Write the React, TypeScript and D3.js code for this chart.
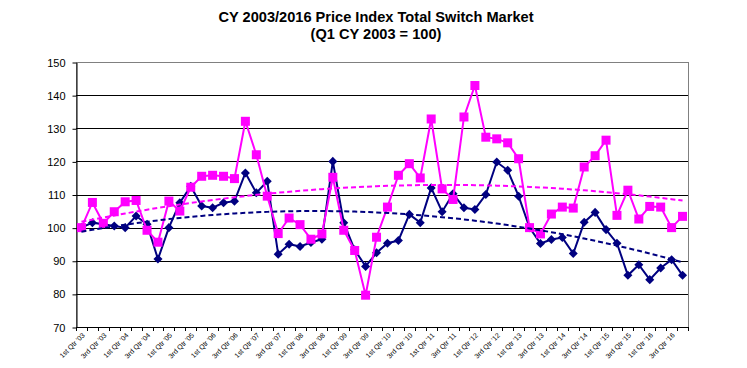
import { useEffect, useRef } from "react";
import * as d3 from "d3";

// quarter labels, every other one shown on the axis
const years = ["03", "04", "05", "06", "07", "08", "09", "10", "11", "12", "13", "14", "15", "16"];
const quarterNames = ["1st Qtr", "2nd Qtr", "3rd Qtr", "4th Qtr"];
const quarters = years.flatMap(y => quarterNames.map(q => `${q} '${y}`));

// navy series (diamonds)
const navy = [
  100, 101.5, 101, 100.5, 100, 103.5, 101, 90.5,
  100, 107.5, 112.5, 106.5, 106, 107.5, 108, 116.5,
  110.5, 114, 92, 95, 94.3, 95.5, 96.5, 120,
  101.5, 93.3, 88.3, 92.4, 95.3, 96.1, 104, 101.5,
  112, 104.8, 110.2, 106, 105.5, 110, 119.8, 117.3,
  109.5, 100, 95.2, 96.4, 97, 92.2, 101.6, 104.6,
  99.4, 95.3, 85.6, 88.8, 84.3, 87.8, 90.3, 85.6
];

// magenta series (squares)
const magenta = [
  100, 107.6, 101.3, 104.8, 107.8, 108.2, 99.2, 95.6,
  108, 105, 112.2, 115.5, 115.8, 115.5, 114.8, 132.1,
  122, 109.5, 98.2, 102.9, 100.9, 96.5, 98.1, 115.2,
  99.2, 93.1, 79.6, 97.1, 106.2, 115.8, 119.3, 115,
  132.8, 111.7, 108.5, 133.4, 142.9, 127.3, 126.8, 125.6,
  120.8, 100, 98.1, 104.1, 106.2, 105.9, 118.3, 121.7,
  126.4, 103.7, 111.3, 102.6, 106.4, 106.2, 100, 103.4
];

const yTicks = [70, 80, 90, 100, 110, 120, 130, 140, 150];

// least squares polynomial fit (like an Excel polynomial trendline)
function polyfit(ys: number[], order: number) {
  const n = order + 1;
  const A: number[][] = Array.from({ length: n }, () => new Array(n + 1).fill(0));
  ys.forEach((y, i) => {
    const x = i + 1;
    for (let r = 0; r < n; r++) {
      for (let c = 0; c < n; c++) A[r][c] += Math.pow(x, r + c);
      A[r][n] += y * Math.pow(x, r);
    }
  });
  for (let i = 0; i < n; i++) {
    let p = i;
    for (let k = i + 1; k < n; k++) if (Math.abs(A[k][i]) > Math.abs(A[p][i])) p = k;
    [A[i], A[p]] = [A[p], A[i]];
    for (let k = i + 1; k < n; k++) {
      const f = A[k][i] / A[i][i];
      for (let j = i; j <= n; j++) A[k][j] -= f * A[i][j];
    }
  }
  const coef = new Array(n).fill(0);
  for (let i = n - 1; i >= 0; i--) {
    let s = A[i][n];
    for (let j = i + 1; j < n; j++) s -= A[i][j] * coef[j];
    coef[i] = s / A[i][i];
  }
  return ys.map((_, i) => coef.reduce((acc, c, k) => acc + c * Math.pow(i + 1, k), 0));
}

export default function App() {
  const ref = useRef<SVGSVGElement>(null);

  useEffect(() => {
    const width = 747;
    const height = 368;
    const marginLeft = 76;
    const marginRight = 59;
    const marginTop = 62;
    const marginBottom = 41;
    const font = "Arial, 'Liberation Sans', sans-serif";

    const svg = d3.select(ref.current);
    svg.selectAll("*").remove();
    svg.attr("width", width).attr("height", height).attr("viewBox", [0, 0, width, height]);

    const x = d3.scaleBand(quarters, [marginLeft, width - marginRight]);
    const y = d3.scaleLinear([70, 150], [height - marginBottom, marginTop]);
    const cx = (i: number) => x(quarters[i])! + x.bandwidth() / 2;

    svg.append("rect").attr("width", width).attr("height", height).attr("fill", "white");

    // title
    const title = svg.append("text")
      .attr("x", 376)
      .attr("text-anchor", "middle")
      .attr("font-family", font)
      .attr("font-weight", "bold")
      .attr("font-size", 14.6);
    title.append("tspan").attr("x", 376).attr("y", 22).text("CY 2003/2016 Price Index Total Switch Market");
    title.append("tspan").attr("x", 376).attr("y", 39).text("(Q1 CY 2003 = 100)");

    // plot frame and gridlines
    svg.append("rect")
      .attr("x", marginLeft + 0.5)
      .attr("y", y(150) + 0.5)
      .attr("width", width - marginRight - marginLeft)
      .attr("height", y(70) - y(150))
      .attr("fill", "none")
      .attr("stroke", "#808080");

    svg.append("g")
      .selectAll("line")
      .data(yTicks.filter(t => t > 70 && t < 150))
      .join("line")
      .attr("x1", marginLeft)
      .attr("x2", width - marginRight)
      .attr("y1", d => Math.round(y(d)) + 0.5)
      .attr("y2", d => Math.round(y(d)) + 0.5)
      .attr("stroke", "#000");

    // y axis
    const yAxis = svg.append("g")
      .attr("transform", `translate(${marginLeft + 0.5},0.5)`)
      .call(d3.axisLeft(y).tickValues(yTicks).tickSize(4).tickPadding(7).tickSizeOuter(0));
    yAxis.selectAll("text").attr("font-family", font).attr("font-size", 11).attr("fill", "#000");
    yAxis.selectAll("line, path").attr("stroke", "#000");

    // x axis: ticks at band boundaries
    const xAxis = svg.append("g");
    xAxis.append("line")
      .attr("x1", marginLeft)
      .attr("x2", width - marginRight)
      .attr("y1", y(70) + 0.5)
      .attr("y2", y(70) + 0.5)
      .attr("stroke", "#000");
    xAxis.selectAll("line.tick")
      .data(d3.range(quarters.length + 1))
      .join("line")
      .attr("class", "tick")
      .attr("x1", i => Math.round(marginLeft + i * x.step()) + 0.5)
      .attr("x2", i => Math.round(marginLeft + i * x.step()) + 0.5)
      .attr("y1", y(70))
      .attr("y2", y(70) + 4)
      .attr("stroke", "#000");
    xAxis.selectAll("text")
      .data(quarters.filter((_, i) => i % 2 === 0))
      .join("text")
      .attr("transform", (_, k) => `translate(${cx(k * 2) + 2},${y(70) + 7}) rotate(-45)`)
      .attr("text-anchor", "end")
      .attr("dy", "0.35em")
      .attr("font-family", font)
      .attr("font-size", 7)
      .text(d => d);

    const line = d3.line<number>().x((_, i) => cx(i)).y(d => y(d));

    // navy series
    svg.append("path")
      .attr("fill", "none")
      .attr("stroke", "#000080")
      .attr("stroke-width", 2)
      .attr("d", line(navy));
    svg.append("g")
      .selectAll("path")
      .data(navy)
      .join("path")
      .attr("d", d3.symbol(d3.symbolDiamond2, 52)())
      .attr("transform", (d, i) => `translate(${cx(i)},${y(d)})`)
      .attr("fill", "#000080");

    // magenta series
    svg.append("path")
      .attr("fill", "none")
      .attr("stroke", "#FF00FF")
      .attr("stroke-width", 2)
      .attr("d", line(magenta));
    svg.append("g")
      .selectAll("rect")
      .data(magenta)
      .join("rect")
      .attr("x", (_, i) => cx(i) - 4.5)
      .attr("y", d => y(d) - 4.5)
      .attr("width", 9)
      .attr("height", 9)
      .attr("fill", "#FF00FF");

    // trend lines
    svg.append("path")
      .attr("fill", "none")
      .attr("stroke", "#000080")
      .attr("stroke-width", 2)
      .attr("stroke-dasharray", "5,3")
      .attr("d", line(polyfit(navy, 2)));
    svg.append("path")
      .attr("fill", "none")
      .attr("stroke", "#FF00FF")
      .attr("stroke-width", 2)
      .attr("stroke-dasharray", "5,3")
      .attr("d", line(polyfit(magenta, 2)));
  }, []);

  return <svg ref={ref} style={{ position: "absolute", left: 0, top: 0 }}></svg>;
}
